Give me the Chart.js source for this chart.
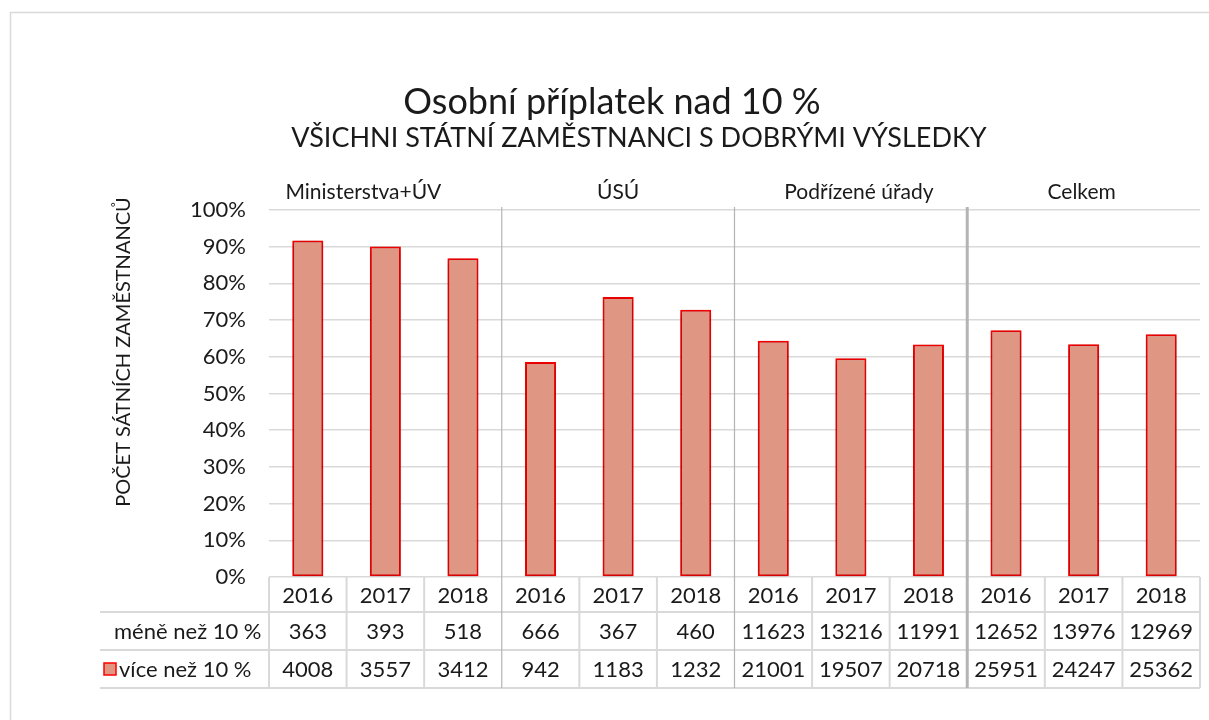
<!DOCTYPE html>
<html>
<head>
<meta charset="utf-8">
<script src="https://cdn.jsdelivr.net/npm/chart.js@4.4.1/dist/chart.umd.min.js"></script>
<style>
  html, body { margin: 0; padding: 0; background: #fff; }
  canvas { display: block; }
</style>
</head>
<body>
<canvas id="chart" width="1209" height="720"></canvas>
<script>
//Dados
const groups = ['Ministerstva+ÚV', 'ÚSÚ', 'Podřízené úřady', 'Celkem'];
const years = ['2016', '2017', '2018'];
const categories = groups.flatMap(() => years);
const meneNez10 = [363, 393, 518, 666, 367, 460, 11623, 13216, 11991, 12652, 13976, 12969];
const viceNez10 = [4008, 3557, 3412, 942, 1183, 1232, 21001, 19507, 20718, 25951, 24247, 25362];
const yTicks = [0, 0.1, 0.2, 0.3, 0.4, 0.5, 0.6, 0.7, 0.8, 0.9, 1];

const title1 = 'Osobní příplatek nad 10 %';
const title2 = 'VŠICHNI STÁTNÍ ZAMĚSTNANCI S DOBRÝMI VÝSLEDKY';
const yTitle = 'POČET SÁTNÍCH ZAMĚSTNANCŮ';
const rowLabels = ['méně než 10 %', 'více než 10 %'];

const FONT = 'Lato, "Open Sans", sans-serif';
const TEXT = '#1a1a1a';
const GRID = '#d9d9d9';
const BAR_FILL = 'rgb(223, 150, 130)';
const BAR_EDGE = '#ff0000';

//Podíly pro 100% skládaný graf
const totals = viceNez10.map((v, i) => v + meneNez10[i]);
const viceShare = viceNez10.map((v, i) => v / totals[i]);
const meneShare = meneNez10.map((v, i) => v / totals[i]);

//Stín pod sloupci
const shadowPlugin = {
  id: 'barShadow',
  beforeDatasetsDraw(chart) {
    const ctx = chart.ctx;
    ctx.save();
    ctx.shadowColor = 'rgba(0,0,0,0.35)';
    ctx.shadowBlur = 6;
    ctx.shadowOffsetX = 0;
    ctx.shadowOffsetY = 1;
  },
  afterDatasetsDraw(chart) {
    chart.ctx.restore();
  }
};

//Titulky, skupiny a datová tabulka
const decorPlugin = {
  id: 'decor',
  afterDraw(chart) {
    const ctx = chart.ctx;
    const area = chart.chartArea;
    const xs = chart.scales.x;
    const n = categories.length;
    const colW = (area.right - area.left) / n;
    const edge = i => area.left + i * colW;

    ctx.save();

    //vnější rámeček
    ctx.strokeStyle = GRID;
    ctx.lineWidth = 1.5;
    ctx.strokeRect(10.5, 12.5, 1300, 800);

    //titulky
    ctx.fillStyle = TEXT;
    ctx.textAlign = 'center';
    ctx.textBaseline = 'middle';
    ctx.font = '36px ' + FONT;
    ctx.fillText(title1, 612, 102);
    ctx.font = '27px ' + FONT;
    ctx.fillText(title2, 639, 138);

    //název osy y
    ctx.save();
    ctx.translate(124, 352);
    ctx.rotate(-Math.PI / 2);
    ctx.font = '20px ' + FONT;
    ctx.fillText(yTitle, 0, 0);
    ctx.restore();

    //názvy skupin
    ctx.font = '21px ' + FONT;
    const shift = [-22, 0, 8, -2];
    groups.forEach((g, gi) => {
      const cx = (edge(gi * 3) + edge(gi * 3 + 3)) / 2 + shift[gi];
      ctx.fillText(g, cx, 192);
    });

    //tabulka
    const rowY = [area.bottom, area.bottom + 35, area.bottom + 73, area.bottom + 111];
    ctx.strokeStyle = GRID;
    ctx.lineWidth = 2;
    ctx.beginPath();
    for (let r = 1; r < rowY.length; r++) {
      ctx.moveTo(100, rowY[r]);
      ctx.lineTo(area.right, rowY[r]);
    }
    for (let i = 0; i <= n; i++) {
      if (i % 3 === 0 && i > 0 && i < n) continue;
      ctx.moveTo(edge(i), rowY[0]);
      ctx.lineTo(edge(i), rowY[3]);
    }
    ctx.stroke();

    //oddělovače skupin
    ctx.strokeStyle = '#b4b4b4';
    [[3, 1.2], [6, 1.2], [9, 3]].forEach(([i, w]) => {
      ctx.lineWidth = w;
      ctx.beginPath();
      ctx.moveTo(edge(i), area.top - 3);
      ctx.lineTo(edge(i), rowY[3]);
      ctx.stroke();
    });

    ctx.fillStyle = TEXT;
    ctx.font = '22px ' + FONT;
    ctx.textAlign = 'center';
    const mid = r => (rowY[r] + rowY[r + 1]) / 2 + 1;
    categories.forEach((c, i) => {
      const cx = xs.getPixelForValue(i);
      ctx.fillText(c, cx, mid(0));
      ctx.fillText(String(meneNez10[i]), cx, mid(1));
      ctx.fillText(String(viceNez10[i]), cx, mid(2));
    });

    //popisky řádků
    ctx.textAlign = 'left';
    ctx.fillText(rowLabels[0], 114, mid(1));
    ctx.fillText(rowLabels[1], 119, mid(2));
    ctx.fillStyle = BAR_FILL;
    ctx.fillRect(104, mid(2) - 7, 12, 12);
    ctx.strokeStyle = BAR_EDGE;
    ctx.lineWidth = 1.5;
    ctx.strokeRect(104, mid(2) - 7, 12, 12);

    ctx.restore();
  }
};

new Chart(document.getElementById('chart'), {
  type: 'bar',
  data: {
    labels: categories,
    datasets: [
      {
        label: rowLabels[1],
        data: viceShare,
        backgroundColor: BAR_FILL,
        borderColor: BAR_EDGE,
        borderWidth: 2,
        borderSkipped: false,
        categoryPercentage: 0.4,
        barPercentage: 1
      },
      {
        label: rowLabels[0],
        data: meneShare,
        backgroundColor: 'rgba(0,0,0,0)',
        borderWidth: 0,
        categoryPercentage: 0.4,
        barPercentage: 1
      }
    ]
  },
  options: {
    responsive: false,
    animation: false,
    layout: { padding: { left: 0, top: 210, right: 9, bottom: 143 } },
    plugins: {
      legend: { display: false },
      tooltip: { enabled: false }
    },
    scales: {
      x: { display: false, stacked: true },
      y: {
        stacked: true,
        min: 0,
        max: 1,
        afterFit(s) { s.width = 269; },
        afterBuildTicks(s) { s.ticks = yTicks.map(v => ({ value: v })); },
        border: { display: false },
        grid: { color: GRID, lineWidth: 1.5, drawTicks: false },
        ticks: {
          padding: 23,
          color: TEXT,
          font: { family: FONT, size: 22 },
          callback: v => Math.round(v * 100) + '%'
        }
      }
    }
  },
  plugins: [shadowPlugin, decorPlugin]
});
</script>
</body>
</html>
